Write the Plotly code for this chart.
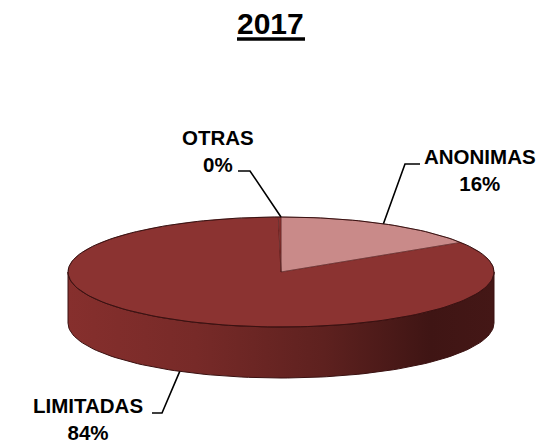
import numpy as np
import plotly.graph_objects as go

# ---- data ----
title_text = "2017"
categories = ["ANONIMAS", "LIMITADAS", "OTRAS"]
values = [16.0, 84.0, 0.2]
slice_colors = ["#C98A89", "#8B3331", "#8B3331"]

# ---- geometry (pixel space of the browser window) ----
W, H = 559, 444
OFF = 8                      # default page body margin
CX, CY = 281.0, 272.0       # centre of top face
A, B = 213.0, 55.0          # ellipse semi-axes
DEPTH = 51.0                # wall height

total = sum(values)
pcts = [v / total * 100 for v in values]


def pt(theta_deg, drop=0.0):
    t = np.radians(theta_deg)
    return CX + A * np.sin(t), CY - B * np.cos(t) + drop


def arc(t0, t1, drop=0.0, n=200):
    th = np.linspace(t0, t1, max(3, int(n * abs(t1 - t0) / 360) + 3))
    t = np.radians(th)
    return list(CX + A * np.sin(t)), list(CY - B * np.cos(t) + drop)


fig = go.Figure()

# side wall (front half, from left 270 deg back through bottom 180 to right 90)
xs_top, ys_top = arc(270, 90)
xs_bot, ys_bot = arc(90, 270, DEPTH)
fig.add_trace(go.Scatter(
    x=xs_top + xs_bot + [xs_top[0]], y=ys_top + ys_bot + [ys_top[0]],
    mode="lines", fill="toself",
    line=dict(color="#3a1111", width=1),
    fillgradient=dict(type="horizontal", colorscale=[
        [0.0, "#862F2D"], [0.3, "#772A28"], [0.6, "#5E211F"],
        [0.85, "#3F1514"], [1.0, "#441716"]]),
    hoverinfo="skip", showlegend=False))

# top face slices
start = 0.0
angles = []
for cat, p, col in zip(categories, pcts, slice_colors):
    sweep = p / 100 * 360
    t0, t1 = start, start + sweep
    angles.append((t0, t1))
    ax_, ay_ = arc(t0, t1)
    fig.add_trace(go.Scatter(
        x=[CX] + ax_ + [CX], y=[CY] + ay_ + [CY],
        mode="lines", fill="toself", fillcolor=col,
        line=dict(color="rgba(70,20,20,0.55)", width=0.8),
        hoverinfo="skip", showlegend=False))
    start = t1

# outline of top face
ox, oy = arc(0, 360)
fig.add_trace(go.Scatter(x=ox, y=oy, mode="lines",
                         line=dict(color="#3a1111", width=1),
                         hoverinfo="skip", showlegend=False))

# labels and leader lines (label placement in pixels)
label_pos = {"ANONIMAS": (480, 170), "LIMITADAS": (88, 419), "OTRAS": (218, 151)}
elbows = {"ANONIMAS": [(420, 164), (405, 164)],
          "LIMITADAS": [(152, 413), (162, 413)],
          "OTRAS": [(238, 171), (250, 171)]}

for cat, p, (t0, t1) in zip(categories, pcts, angles):
    mid = (t0 + t1) / 2
    if cat == "OTRAS":
        mid = t1
    drop = DEPTH if 95 < (mid % 360) < 265 else 0.0
    px, py = pt(mid, drop)
    e = elbows[cat]
    fig.add_trace(go.Scatter(
        x=[e[0][0], e[1][0], px], y=[e[0][1], e[1][1], py],
        mode="lines", line=dict(color="black", width=1.6),
        hoverinfo="skip", showlegend=False))
    lx, ly = label_pos[cat]
    fig.add_annotation(x=lx, y=ly, xref="x", yref="y",
                       text=f"<b>{cat}<br>{round(p)}%</b>", showarrow=False,
                       font=dict(family="Liberation Sans, Arial, sans-serif",
                                 size=20.5, color="black"),
                       align="center", xanchor="center", yanchor="middle")

# title
fig.add_annotation(x=270, y=23, xref="x", yref="y", text=f"<b>{title_text}</b>",
                   showarrow=False,
                   font=dict(family="Liberation Sans, Arial, sans-serif",
                             size=30, color="black"),
                   xanchor="center", yanchor="middle")
fig.add_shape(type="line", x0=237, x1=305, y0=39, y1=39, xref="x", yref="y",
              line=dict(color="black", width=3.5))

fig.update_layout(
    width=W, height=H, margin=dict(l=0, r=0, t=0, b=0),
    paper_bgcolor="white", plot_bgcolor="white",
    xaxis=dict(range=[OFF, W + OFF], visible=False, fixedrange=True),
    yaxis=dict(range=[H + OFF, OFF], visible=False, fixedrange=True),
    showlegend=False,
)

fig.write_html("out.html")
